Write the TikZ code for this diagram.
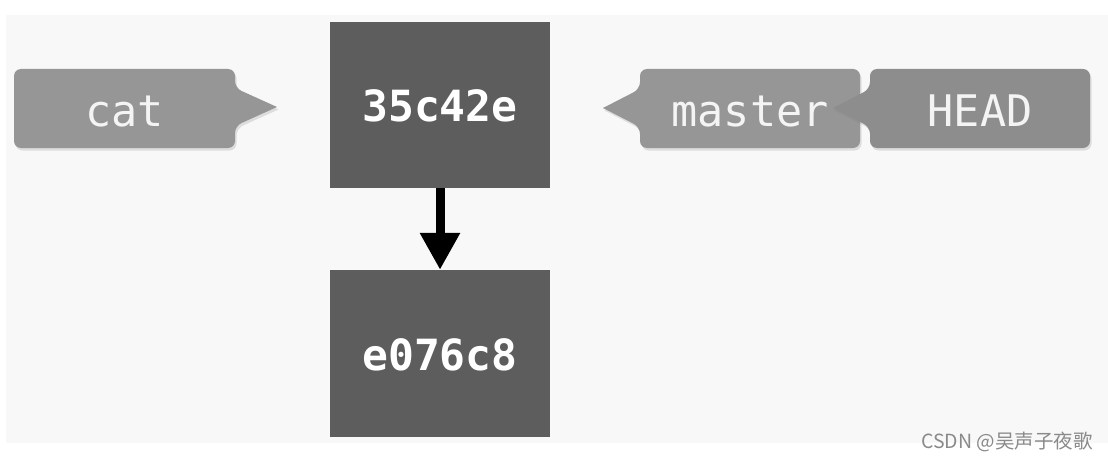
\documentclass[tikz,border=0pt]{standalone}
\usepackage{fontspec}
\setmonofont{DejaVu Sans Mono}
\newfontfamily\cjkwm{Noto Sans CJK SC}
\usetikzlibrary{arrows.meta,shadows}
\definecolor{panelbg}{HTML}{F8F8F8}
\definecolor{commitcol}{HTML}{5D5D5D}
\definecolor{tagcol}{HTML}{969696}
\definecolor{headcol}{HTML}{8D8D8D}
\definecolor{tagtext}{HTML}{F4F4F4}
\definecolor{wmcol}{HTML}{8A8A8A}
\tikzset{
  commitbox/.style={fill=commitcol, minimum width=220pt, minimum height=166pt, inner sep=0pt,
    text height=33pt, text depth=0pt,
    text=white, font=\ttfamily\bfseries\fontsize{43}{46}\selectfont},
  tagbody/.style={minimum width=221pt, minimum height=79pt, inner sep=0pt,
    text height=35pt, text depth=0pt,
    text=tagtext, font=\ttfamily\fontsize{43.5}{46}\selectfont},
  tagshadow/.style={drop shadow={opacity=0.22, shadow xshift=1.5pt, shadow yshift=-2.5pt}},
}
\begin{document}
\begin{tikzpicture}[x=1pt,y=-1pt]
\useasboundingbox (0,0) rectangle (1108,460);
\fill[white] (0,0) rectangle (1108,460);
\fill[panelbg] (6,15) rectangle (1108,443);

% commits
\node[commitbox] (c1) at (440,105) {35c42e};
\node[commitbox, minimum height=167pt] (c2) at (440,353.5) {e076c8};
\draw[line width=9pt, -{Triangle[width=38pt,length=37pt]}] (c1.south) -- (c2.north);

% cat tag (pointer to the right)
\path[fill=tagcol, tagshadow, rounded corners=7pt]
  (14,69) -- (235,69) -- (235,88) {[sharp corners] -- (277,107)} -- (235,126) -- (235,148) -- (14,148) -- cycle;
\node[tagbody] (cat) at (124.5,108.5) {cat};

% master tag (pointer to the left)
\path[fill=tagcol, tagshadow, rounded corners=7pt]
  (860,69) -- (860,148) -- (640,148) -- (640,127) {[sharp corners] -- (603,108)} -- (640,89) -- (640,69) -- cycle;
\node[tagbody] (master) at (750,108.5) {master};

% HEAD tag (pointer to the left, over master)
\path[fill=headcol, tagshadow, rounded corners=7pt]
  (1090,69) -- (1090,148) -- (870,148) -- (870,127) {[sharp corners] -- (833,108)} -- (870,89) -- (870,69) -- cycle;
\node[tagbody] (head) at (980,108.5) {HEAD};

% watermark
\node[anchor=east, text=wmcol, font=\cjkwm\fontsize{19.5}{22}\selectfont, inner sep=0pt] (wm) at (1093,442) {CSDN @吴声子夜歌};
\end{tikzpicture}
\end{document}
